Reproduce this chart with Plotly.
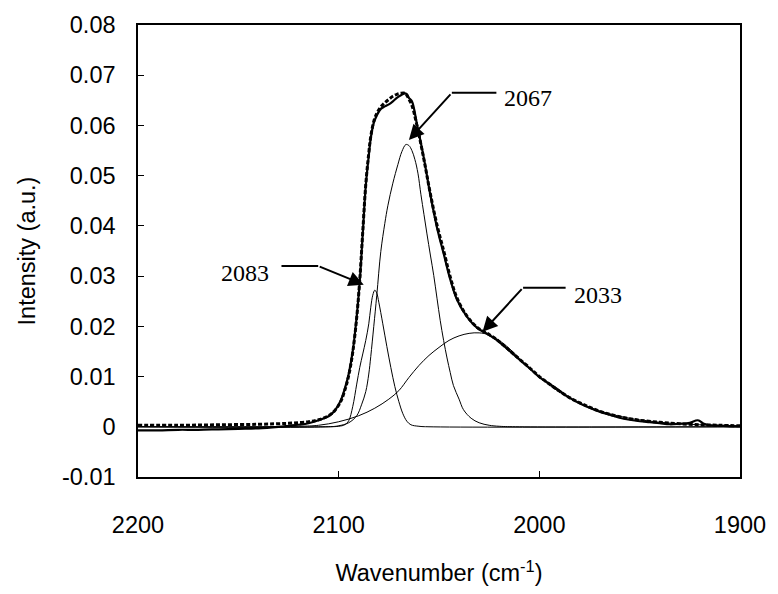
import plotly.graph_objects as go

# ---------------- data ----------------
exp_wn = [2200, 2190, 2180, 2170, 2160, 2150, 2140, 2130, 2125, 2120, 2115, 2110, 2105, 2102,
          2099, 2097, 2095, 2093, 2091, 2089.5, 2088, 2086.5, 2085, 2084, 2082.5, 2081, 2079,
          2077, 2075, 2073, 2071, 2069, 2067, 2066, 2065, 2063.5, 2061, 2057.5, 2054.5, 2051,
          2047.5, 2044.5, 2041, 2036, 2031, 2026, 2022, 2018, 2014, 2010, 2005, 2000, 1995,
          1990, 1985, 1980, 1975, 1970, 1965, 1960, 1955, 1950, 1945, 1940, 1935, 1930, 1925,
          1921, 1918, 1915, 1910, 1905, 1900]
exp_y = [-0.0007, -0.0007, -0.0006, -0.0006, -0.0005, -0.0004, -0.0003, 0.0000, 0.0002, 0.0004,
         0.0007, 0.0013, 0.0021, 0.0032, 0.0052, 0.0075, 0.0105, 0.0150, 0.0220, 0.0290, 0.0385,
         0.0480, 0.0540, 0.0575, 0.0605, 0.0620, 0.0633, 0.0638, 0.0642, 0.0648, 0.0655, 0.0660,
         0.0664, 0.0662, 0.0655, 0.0648, 0.0603, 0.0534, 0.0466, 0.0397, 0.0342, 0.0295, 0.0253,
         0.0219, 0.0197, 0.0185, 0.0175, 0.0162, 0.0148, 0.0134, 0.0117, 0.0099, 0.0086, 0.0072,
         0.0058, 0.0047, 0.0038, 0.0030, 0.0024, 0.0018, 0.0014, 0.0011, 0.0009, 0.0007, 0.0005,
         0.0006, 0.0008, 0.0013, 0.0006, 0.0003, 0.0002, 0.0001, 0.0001]

fit_wn = [2200, 2180, 2160, 2140, 2125, 2115, 2110, 2105, 2102, 2099, 2097, 2095, 2093, 2091,
          2089.5, 2088, 2086.5, 2085, 2084, 2082.5, 2081, 2079, 2077, 2075, 2073, 2071, 2069,
          2067, 2066, 2065, 2063.5, 2061, 2057.5, 2054.5, 2051, 2047.5, 2044.5, 2041, 2036,
          2031, 2026, 2022, 2018, 2014, 2010, 2005, 2000, 1995, 1990, 1985, 1980, 1975, 1970,
          1965, 1960, 1955, 1950, 1940, 1930, 1920, 1910, 1900]
fit_y = [0.0003, 0.0003, 0.0004, 0.0005, 0.0007, 0.0010, 0.0014, 0.0022, 0.0032, 0.0050, 0.0072,
         0.0102, 0.0148, 0.0218, 0.0292, 0.0388, 0.0482, 0.0545, 0.0578, 0.0608, 0.0624, 0.0637,
         0.0645, 0.0652, 0.0658, 0.0662, 0.0664, 0.0664, 0.0660, 0.0652, 0.0640, 0.0600, 0.0532,
         0.0468, 0.0402, 0.0348, 0.0300, 0.0256, 0.0220, 0.0198, 0.0186, 0.0176, 0.0163, 0.0149,
         0.0135, 0.0118, 0.0100, 0.0085, 0.0071, 0.0058, 0.0048, 0.0039, 0.0031, 0.0025, 0.0020,
         0.0016, 0.0013, 0.0009, 0.0006, 0.0004, 0.0003, 0.0002]

p2083_wn = [2200, 2110, 2100, 2097, 2095, 2093, 2091, 2089.5, 2088, 2086.5, 2085, 2084, 2083,
            2082, 2081, 2080, 2078, 2076, 2074, 2072, 2070, 2068, 2066, 2064, 2060, 2055, 1900]
p2083_y = [0.0, 0.0, 0.0001, 0.0004, 0.0012, 0.0040, 0.0085, 0.0118, 0.0145, 0.0172, 0.0205,
           0.0238, 0.0262, 0.0272, 0.0266, 0.0248, 0.0205, 0.0160, 0.0118, 0.0080, 0.0050,
           0.0026, 0.0011, 0.0004, 0.0001, 0.0, 0.0]

p2067_wn = [2200, 2105, 2100, 2095, 2091, 2088.5, 2086.5, 2085, 2084, 2082.5, 2081, 2079, 2077,
            2075.5, 2073, 2070.5, 2068.5, 2066.5, 2065, 2063.5, 2062, 2060.5, 2059, 2057.5, 2056,
            2054.3, 2052.6, 2051, 2049.4, 2047.7, 2046, 2044.4, 2042.8, 2040, 2037.8, 2034,
            2030, 2025, 2020, 2010, 1900]
p2067_y = [0.0, 0.0, 0.0002, 0.0008, 0.0022, 0.0045, 0.0070, 0.0105, 0.0140, 0.0200, 0.0262,
           0.0349, 0.0405, 0.0440, 0.0485, 0.0522, 0.0548, 0.0562, 0.0560, 0.0550, 0.0532, 0.0505,
           0.0462, 0.0423, 0.0384, 0.0342, 0.0301, 0.0256, 0.0212, 0.0172, 0.0137, 0.0108, 0.0082,
           0.0055, 0.0034, 0.0017, 0.0008, 0.0003, 0.0001, 0.0, 0.0]

p2033_wn = [2200, 2120, 2110, 2100, 2090, 2082, 2075, 2070, 2065, 2060, 2055, 2050, 2045, 2040,
            2035, 2030, 2025, 2020, 2015, 2010, 2005, 2000, 1995, 1990, 1985, 1980, 1975, 1970,
            1965, 1960, 1955, 1950, 1940, 1930, 1920, 1910, 1900]
p2033_y = [0.0, 0.0001, 0.0003, 0.0010, 0.0022, 0.0037, 0.0055, 0.0072, 0.0098, 0.0122, 0.0142,
           0.0158, 0.0172, 0.0181, 0.0186, 0.0187, 0.0183, 0.0172, 0.0156, 0.0137, 0.0117, 0.0099,
           0.0083, 0.0069, 0.0057, 0.0047, 0.0039, 0.0032, 0.0026, 0.0021, 0.0017, 0.0014, 0.0009,
           0.0006, 0.0004, 0.0003, 0.0002]

x_ticks = [2200, 2100, 2000, 1900]
y_ticks = [-0.01, 0, 0.01, 0.02, 0.03, 0.04, 0.05, 0.06, 0.07, 0.08]
y_tick_labels = ["-0.01", "0", "0.01", "0.02", "0.03", "0.04", "0.05", "0.06", "0.07", "0.08"]

# peak labels: text position, leader line (end near text -> elbow -> arrow tip)
ann_labels = ["2083", "2067", "2033"]
ann_text_x = [2146.7, 2005.6, 1970.6]
ann_text_y = [0.0307, 0.0655, 0.0263]
ann_line_end_x = [2128.5, 2021.4, 1986.9]
ann_elbow_x = [2110.2, 2043.6, 2008.1]
ann_elbow_y = [0.0320, 0.0665, 0.0277]
ann_tip_x = [2087.5, 2065.0, 2028.3]
ann_tip_y = [0.0283, 0.0571, 0.0189]

# ---------------- figure ----------------
fig = go.Figure()
thin = dict(color="black", width=1)
for wn, yy in [(p2083_wn, p2083_y), (p2067_wn, p2067_y), (p2033_wn, p2033_y)]:
    fig.add_trace(go.Scatter(x=wn, y=yy, mode="lines", line=thin, line_shape="spline",
                             showlegend=False, hoverinfo="skip"))
fig.add_trace(go.Scatter(x=exp_wn, y=exp_y, mode="lines", line=dict(color="black", width=2.2),
                         line_shape="spline", showlegend=False))
fig.add_trace(go.Scatter(x=fit_wn, y=fit_y, mode="lines",
                         line=dict(color="black", width=3, dash="4px,2px"),
                         line_shape="spline", showlegend=False))

annotations = []
shapes = []
for i, lab in enumerate(ann_labels):
    annotations.append(dict(x=ann_text_x[i], y=ann_text_y[i], xref="x", yref="y", text=lab,
                            showarrow=False,
                            font=dict(family="Liberation Serif, Times New Roman, serif",
                                      size=24, color="black")))
    annotations.append(dict(x=ann_tip_x[i], y=ann_tip_y[i], xref="x", yref="y",
                            ax=ann_elbow_x[i], ay=ann_elbow_y[i], axref="x", ayref="y",
                            text="", showarrow=True, arrowhead=2, arrowsize=1.5,
                            arrowwidth=2, arrowcolor="black", standoff=0, startstandoff=0))
    shapes.append(dict(type="line", xref="x", yref="y", x0=ann_line_end_x[i], x1=ann_elbow_x[i],
                       y0=ann_elbow_y[i], y1=ann_elbow_y[i], line=dict(color="black", width=2)))

font_main = "Liberation Sans, Arial, sans-serif"
fig.update_layout(
    width=778, height=594,
    margin=dict(l=138, r=32, t=25, b=116),
    paper_bgcolor="white", plot_bgcolor="white",
    font=dict(family=font_main, size=23.5, color="black"),
    annotations=annotations, shapes=shapes,
    xaxis=dict(range=[2200, 1900], tickvals=x_ticks, ticks="inside", ticklen=6,
               tickcolor="black", showgrid=False, zeroline=False, showline=True,
               linecolor="black", linewidth=1.5, mirror=True, ticklabelstandoff=26,
               tickfont=dict(family=font_main, size=23.5),
               title=dict(text="Wavenumber (cm<sup>-1</sup>)", standoff=28,
                          font=dict(family=font_main, size=23.5))),
    yaxis=dict(range=[-0.01, 0.08], tickvals=y_ticks, ticktext=y_tick_labels, ticks="inside",
               ticklen=6, tickcolor="black", showgrid=False, zeroline=False, showline=True,
               linecolor="black", linewidth=1.5, mirror=True, ticklabelstandoff=16,
               tickfont=dict(family=font_main, size=23.5),
               title=dict(text="Intensity (a.u.)", standoff=20,
                          font=dict(family=font_main, size=23.5))),
)

fig.write_html("out.html")
